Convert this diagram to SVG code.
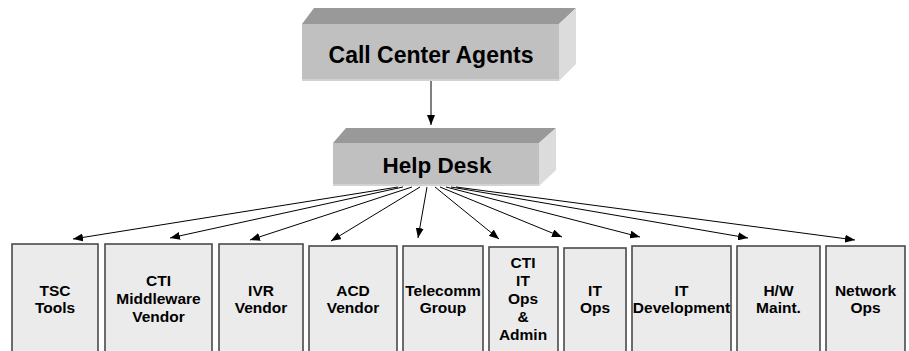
<svg xmlns="http://www.w3.org/2000/svg" width="909" height="351" viewBox="0 0 909 351">
<defs>
<marker id="ah" markerWidth="10" markerHeight="8" refX="10" refY="4" orient="auto" markerUnits="userSpaceOnUse">
<path d="M0,0 L10,4 L0,8 Z" fill="#000"/>
</marker>
<style>
.front{fill:#c0c0c0}
.top{fill:#999999}
.side{fill:#dcdcdc}
.strip{fill:#d2d2d2}
.big{font-family:"Liberation Sans",Arial,sans-serif;font-weight:bold;font-size:23px;fill:#000;text-anchor:middle}
.hd{font-size:22.5px}
.box{fill:#ebebeb;stroke:#4a4a4a;stroke-width:1.6}
.lbl{font-family:"Liberation Sans",Arial,sans-serif;font-weight:bold;font-size:15.5px;fill:#000;text-anchor:middle}
.con{stroke:#000;stroke-width:1;fill:none;marker-end:url(#ah)}
</style>
</defs>
<rect width="909" height="351" fill="#fff"/>
<g id="call-center-agents">
<polygon class="top" points="302,24 314,8 576,8 559,24"/>
<polygon class="side" points="559,24 576,8 576,64 559,81"/>
<rect class="front" x="302" y="24" width="257" height="57"/>
<rect class="strip" x="302" y="79" width="257" height="2"/>
<text class="big" x="431" y="63">Call Center Agents</text>
</g>
<g id="help-desk">
<polygon class="top" points="333,143 346,128 556,128 539,143"/>
<polygon class="side" points="539,143 556,128 556,170 539,186"/>
<rect class="front" x="333" y="143" width="206" height="43"/>
<rect class="strip" x="333" y="184" width="206" height="2"/>
<text class="big hd" x="437" y="173">Help Desk</text>
</g>
<g id="connectors">
<line class="con" x1="431" y1="81" x2="431" y2="125"/>
<line class="con" x1="398" y1="187" x2="73" y2="239"/>
<line class="con" x1="403" y1="187" x2="170" y2="238"/>
<line class="con" x1="412" y1="187" x2="250" y2="240"/>
<line class="con" x1="420" y1="187" x2="331" y2="241"/>
<line class="con" x1="427" y1="187" x2="418" y2="238"/>
<line class="con" x1="435" y1="187" x2="499" y2="239"/>
<line class="con" x1="440" y1="187" x2="562" y2="237"/>
<line class="con" x1="446" y1="187" x2="640" y2="237"/>
<line class="con" x1="451" y1="187" x2="748" y2="238"/>
<line class="con" x1="456" y1="187" x2="855" y2="240"/>
</g>
<g id="tsc-tools">
<rect class="box" x="12" y="244" width="86" height="120"/>
<text class="lbl" x="55" y="296">TSC</text>
<text class="lbl" x="55" y="313">Tools</text>
</g>
<g id="cti-middleware-vendor">
<rect class="box" x="105" y="244" width="107" height="120"/>
<text class="lbl" x="158.5" y="286">CTI</text>
<text class="lbl" x="158.5" y="304">Middleware</text>
<text class="lbl" x="158.5" y="322">Vendor</text>
</g>
<g id="ivr-vendor">
<rect class="box" x="219" y="244" width="84" height="120"/>
<text class="lbl" x="261" y="296">IVR</text>
<text class="lbl" x="261" y="313">Vendor</text>
</g>
<g id="acd-vendor">
<rect class="box" x="309" y="246" width="88" height="120"/>
<text class="lbl" x="353" y="296">ACD</text>
<text class="lbl" x="353" y="313">Vendor</text>
</g>
<g id="telecomm-group">
<rect class="box" x="403" y="246" width="80" height="120"/>
<text class="lbl" x="443" y="296">Telecomm</text>
<text class="lbl" x="443" y="313">Group</text>
</g>
<g id="cti-it-ops-admin">
<rect class="box" x="489" y="247" width="69" height="120"/>
<text class="lbl" x="523" y="268">CTI</text>
<text class="lbl" x="523" y="286">IT</text>
<text class="lbl" x="523" y="304">Ops</text>
<text class="lbl" x="523" y="322">&amp;</text>
<text class="lbl" x="523" y="340">Admin</text>
</g>
<g id="it-ops">
<rect class="box" x="564" y="248" width="62" height="120"/>
<text class="lbl" x="595" y="296">IT</text>
<text class="lbl" x="595" y="313">Ops</text>
</g>
<g id="it-development">
<rect class="box" x="632" y="246" width="99" height="120"/>
<text class="lbl" x="681.5" y="296">IT</text>
<text class="lbl" x="681.5" y="313">Development</text>
</g>
<g id="hw-maint">
<rect class="box" x="737" y="246" width="83" height="120"/>
<text class="lbl" x="778.5" y="296">H/W</text>
<text class="lbl" x="778.5" y="313">Maint.</text>
</g>
<g id="network-ops">
<rect class="box" x="826" y="246" width="79" height="120"/>
<text class="lbl" x="865.5" y="296">Network</text>
<text class="lbl" x="865.5" y="313">Ops</text>
</g>
</svg>
